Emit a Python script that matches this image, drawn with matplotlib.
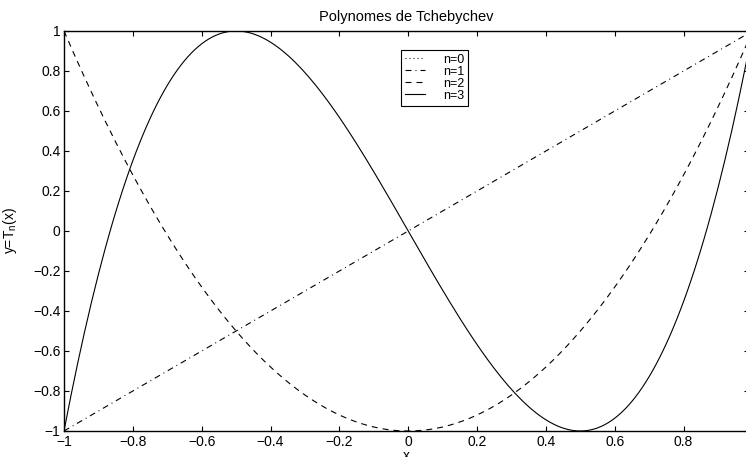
import numpy as np
import matplotlib
matplotlib.use("Agg")
import matplotlib.pyplot as plt

plt.rcParams['font.family'] = ['Liberation Sans', 'DejaVu Sans']
plt.rcParams['mathtext.default'] = 'regular'
plt.rcParams['lines.scale_dashes'] = False

# Sample abscissae: -1 to 0.99 in steps of 0.01
x_start, x_stop, x_step = -1.0, 0.99, 0.01

# Polynomial coefficients (highest degree first) for T_0 .. T_3
coef_t0 = [1]
coef_t1 = [1, 0]
coef_t2 = [2, 0, -1]
coef_t3 = [4, 0, -3, 0]

labels = ["n=0", "n=1", "n=2", "n=3"]
# dash patterns in points: dotted, dash-dot, dashed, solid
styles = [(0, (0.7, 2.2)), (0, (4.3, 2.9, 0.7, 2.9)), (0, (4.3, 3.6)), "-"]

xticks = [-1, -0.8, -0.6, -0.4, -0.2, 0, 0.2, 0.4, 0.6, 0.8]
yticks = [-1, -0.8, -0.6, -0.4, -0.2, 0, 0.2, 0.4, 0.6, 0.8, 1]

x = np.round(np.arange(x_start, x_stop + x_step / 2, x_step), 10)

fig = plt.figure(figsize=(7.46, 4.57), dpi=100)
ax = fig.add_axes([64 / 746, 26 / 457, 685 / 746, 400 / 457])

for coef, lab, ls in zip([coef_t0, coef_t1, coef_t2, coef_t3], labels, styles):
    y = np.polyval(coef, x) * np.ones_like(x)
    ax.plot(x, y, color="black", linestyle=ls, linewidth=0.8, label=lab)

ax.set_xlim(x_start, x_stop)
ax.set_ylim(-1, 1)
ax.set_xticks(xticks)
ax.set_yticks(yticks)
ax.set_xticklabels([f"{t:g}".replace("-", "\u2212") for t in xticks])
ax.set_yticklabels([f"{t:g}".replace("-", "\u2212") for t in yticks])
ax.tick_params(direction="in", top=True, right=True, length=3.5, width=0.8,
               labelsize=10)
ax.tick_params(axis="y", pad=2.5)
ax.tick_params(axis="x", pad=3)
for s in ax.spines.values():
    s.set_linewidth(1.0)

ax.set_title("Polynomes de Tchebychev", fontsize=10.5, pad=7)
ax.set_xlabel("x", fontsize=10, labelpad=0)
ax.set_ylabel("y=T$_n$(x)", fontsize=10, labelpad=10)

leg = ax.legend(loc="upper left", bbox_to_anchor=((401 - 64) / 685, (426 - 45) / 400),
                fontsize=9, frameon=True, fancybox=False, edgecolor="black",
                framealpha=1, borderpad=0.3, labelspacing=0.0, handlelength=1.6,
                handletextpad=1.5, borderaxespad=0)
leg.get_frame().set_linewidth(0.8)

fig.savefig("out.png", dpi=100)
